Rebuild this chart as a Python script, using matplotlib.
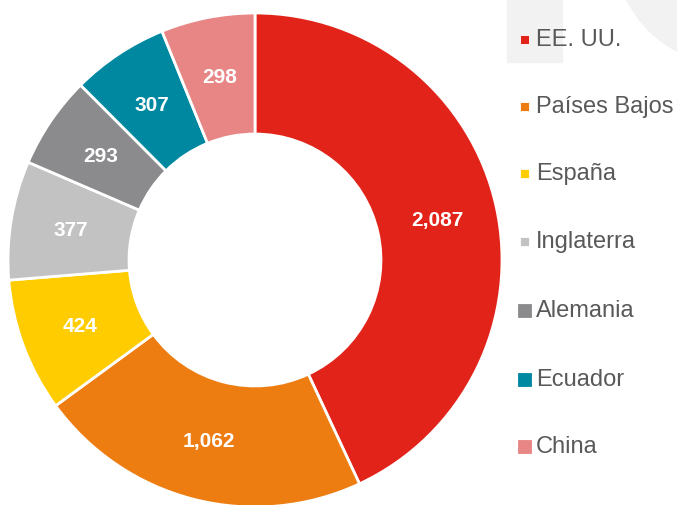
import numpy as np
import matplotlib.pyplot as plt
from matplotlib.patches import Rectangle, Circle

# data
countries = ['EE. UU.', 'Países Bajos', 'España', 'Inglaterra', 'Alemania', 'Ecuador', 'China']
values = [2087, 1062, 424, 377, 293, 307, 298]
value_labels = ['2,087', '1,062', '424', '377', '293', '307', '298']
colors = ['#E2231A', '#EE7D11', '#FFCC00', '#C3C2C2', '#8B8A8C', '#0088A1', '#E88585']

# legend marker sizes (px) as they appear in the original
marker_px = [9, 9, 9, 9, 13, 13, 13]

W, H = 677, 506
plt.rcParams['font.family'] = ['Liberation Sans', 'DejaVu Sans']
fig = plt.figure(figsize=(W / 100, H / 100), dpi=100)

# background decorations (top right)
bg = fig.add_axes([0, 0, 1, 1], zorder=0)
bg.set_xlim(0, W)
bg.set_ylim(H, 0)
bg.axis('off')
bg.add_patch(Rectangle((507, 0), 55, 63, color='#F2F2F2'))
bg.add_patch(Circle((730, -50), 115, color='#F2F2F2'))

# donut
r = 247
cx, cy = 255, 261
ax = fig.add_axes([(cx - r) / W, (H - cy - r) / H, 2 * r / W, 2 * r / H], zorder=1)
ax.pie(values, colors=colors, startangle=90, counterclock=False, radius=1,
       wedgeprops=dict(width=0.49, edgecolor='white', linewidth=2))
ax.set_xlim(-1, 1)
ax.set_ylim(-1, 1)
ax.set_aspect('equal')

total = sum(values)
start = 90
for v, lab in zip(values, value_labels):
    ang = start - v / total * 180
    start -= v / total * 360
    x = 0.755 * np.cos(np.radians(ang))
    y = 0.755 * np.sin(np.radians(ang))
    ax.text(x, y, lab, ha='center', va='center', color='white',
            fontsize=15, fontweight='bold')

# legend
leg = fig.add_axes([0, 0, 1, 1], zorder=2)
leg.set_xlim(0, W)
leg.set_ylim(H, 0)
leg.axis('off')
row_y = [40, 107, 174, 242, 311, 380, 447]
for yy, name, c, s in zip(row_y, countries, colors, marker_px):
    x0 = 524.5 - s / 2
    leg.add_patch(Rectangle((x0, yy - s / 2), s, s, facecolor=c,
                            edgecolor='white' if s < 10 else c, linewidth=0.6))
    leg.text(536, yy, name, ha='left', va='center', color='#595959', fontsize=17)

fig.savefig('out.png', dpi=100)
